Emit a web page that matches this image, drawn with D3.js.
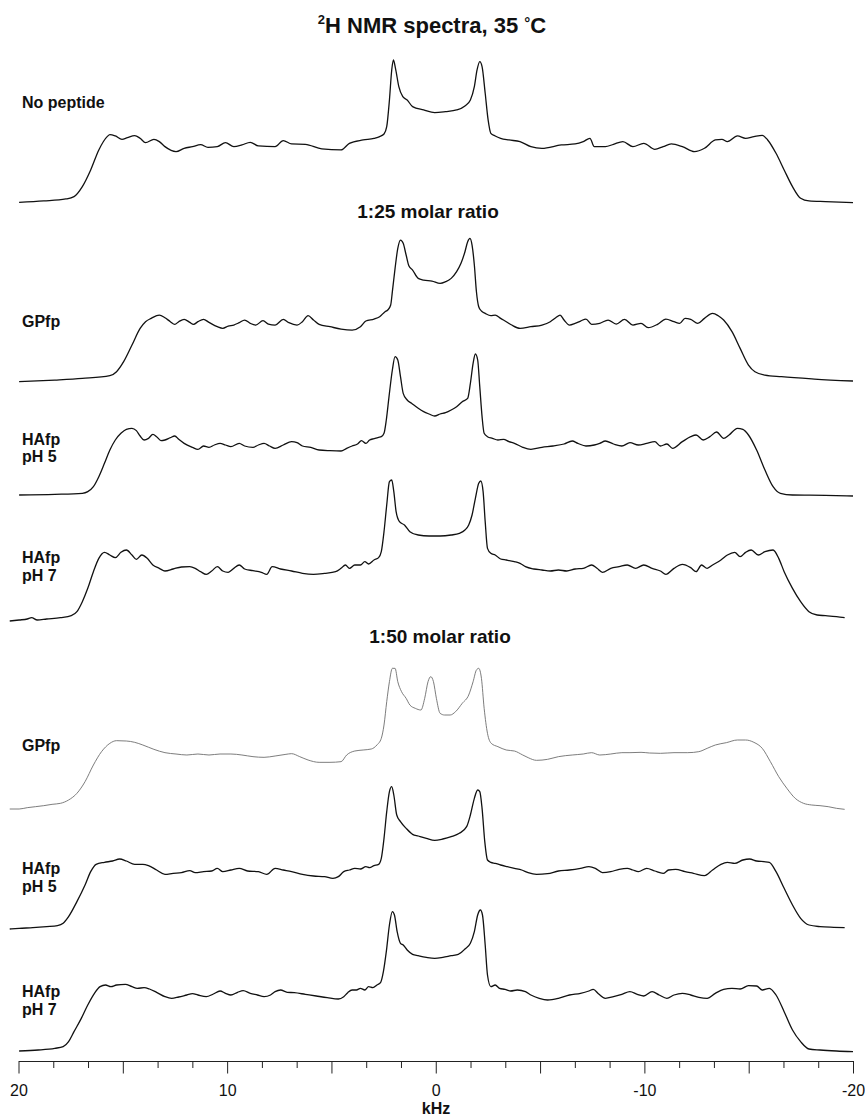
<!DOCTYPE html>
<html><head><meta charset="utf-8">
<script src="https://cdn.jsdelivr.net/npm/d3@7"></script>
<style>
html,body{margin:0;padding:0;background:#fff;}
svg{display:block;font-family:"Liberation Sans",Arial,Helvetica,sans-serif;}
</style></head>
<body>
<svg id="chart" width="865" height="1117"></svg>
<script>
// ---------- DATA: [kHz, intensity (a.u.)] ----------
const noPeptide = [[19.97,0],[18.79,4],[17.73,10],[17.34,17],[16.94,47],[16.54,97],[16.15,157],[15.75,197],[15.62,203],[15.36,199],[15.04,189],[14.78,194],[14.43,200],[14.17,192],[13.91,179],[13.51,189],[13.25,182],[12.98,167],[12.45,152],[12.06,162],[11.66,167],[11.27,173],[10.92,165],[10.47,167],[10.08,179],[9.68,167],[9.29,172],[8.89,180],[8.50,169],[7.70,167],[7.31,185],[6.91,175],[6.25,174],[5.46,160],[4.54,157],[4.14,177],[3.48,187],[2.96,192],[2.69,197],[2.48,205],[2.35,227],[2.22,307],[2.11,397],[2.03,427],[1.93,402],[1.77,347],[1.58,317],[1.37,307],[1.11,287],[0.58,277],[0.05,269],[-0.47,272],[-1.00,277],[-1.40,289],[-1.66,307],[-1.85,347],[-1.98,397],[-2.11,422],[-2.22,407],[-2.37,327],[-2.51,247],[-2.64,207],[-2.85,199],[-3.11,192],[-3.51,187],[-4.04,182],[-4.56,167],[-5.09,162],[-6.02,172],[-6.68,175],[-7.07,182],[-7.39,192],[-7.60,167],[-8.13,167],[-8.52,174],[-8.97,182],[-9.45,167],[-9.97,177],[-10.50,159],[-10.90,167],[-11.29,175],[-11.82,167],[-12.40,152],[-12.88,162],[-13.40,187],[-13.72,189],[-13.98,182],[-14.46,199],[-14.85,192],[-15.25,197],[-15.65,201],[-15.91,187],[-16.31,147],[-16.70,97],[-17.10,47],[-17.49,12],[-17.89,4],[-18.68,2],[-20.00,-1]];

const gpfp25 = [[19.97,0],[18.26,5],[16.94,10],[15.62,18],[15.30,30],[14.96,60],[14.56,110],[14.17,160],[13.91,180],[13.64,190],[13.25,200],[12.98,192],[12.72,180],[12.51,172],[12.32,180],[12.06,187],[11.79,178],[11.61,172],[11.40,180],[11.13,187],[10.87,178],[10.47,165],[10.21,160],[9.95,167],[9.68,170],[9.42,177],[9.16,185],[8.89,175],[8.63,170],[8.28,183],[8.02,173],[7.70,170],[7.31,187],[7.04,177],[6.65,170],[6.39,180],[6.12,198],[5.86,185],[5.59,172],[5.07,165],[4.54,158],[4.01,155],[3.61,165],[3.35,182],[2.96,188],[2.69,195],[2.43,210],[2.30,215],[2.16,230],[2.08,270],[1.95,340],[1.82,400],[1.69,425],[1.56,415],[1.42,380],[1.29,348],[1.11,335],[0.84,310],[0.58,305],[0.18,302],[-0.21,295],[-0.47,300],[-0.74,310],[-1.00,330],[-1.21,355],[-1.40,390],[-1.53,420],[-1.64,430],[-1.74,410],[-1.85,350],[-1.95,270],[-2.06,225],[-2.19,212],[-2.37,205],[-2.64,198],[-2.85,200],[-3.11,190],[-3.38,180],[-3.64,170],[-4.04,160],[-4.56,165],[-5.09,170],[-5.49,180],[-5.75,192],[-5.96,200],[-6.15,185],[-6.41,170],[-6.68,175],[-6.94,182],[-7.20,188],[-7.47,172],[-7.86,175],[-8.26,185],[-8.65,173],[-9.05,187],[-9.45,170],[-9.84,175],[-10.18,162],[-10.63,172],[-11.03,188],[-11.42,180],[-11.69,175],[-11.95,190],[-12.22,187],[-12.56,175],[-12.88,190],[-13.27,205],[-13.54,198],[-13.80,185],[-14.20,150],[-14.59,100],[-14.99,50],[-15.30,30],[-15.78,20],[-16.57,15],[-18.15,8],[-20.00,2]];

const hafp5_25 = [[19.97,0],[18.26,2],[16.94,5],[16.68,10],[16.41,25],[16.15,55],[15.88,95],[15.62,135],[15.36,165],[15.09,185],[14.83,197],[14.56,200],[14.35,193],[14.17,177],[13.98,165],[13.77,170],[13.56,182],[13.38,175],[13.17,163],[12.98,165],[12.72,172],[12.51,177],[12.32,167],[12.06,155],[11.66,143],[11.40,137],[11.13,147],[10.87,143],[10.61,150],[10.34,155],[10.08,150],[9.82,145],[9.42,155],[9.16,147],[8.76,143],[8.50,150],[8.23,155],[7.97,147],[7.70,140],[7.31,150],[6.91,160],[6.65,157],[6.39,147],[5.99,143],[5.59,135],[5.07,133],[4.54,132],[4.27,140],[4.01,147],[3.75,153],[3.56,163],[3.35,155],[3.17,165],[2.96,169],[2.74,173],[2.61,175],[2.48,185],[2.37,225],[2.24,295],[2.08,375],[1.95,415],[1.82,405],[1.69,355],[1.56,305],[1.37,285],[1.16,275],[0.84,260],[0.58,250],[0.32,243],[0.05,237],[-0.21,243],[-0.47,247],[-0.74,255],[-1.00,265],[-1.27,280],[-1.53,290],[-1.66,335],[-1.79,395],[-1.90,423],[-2.01,405],[-2.11,325],[-2.22,235],[-2.32,185],[-2.48,175],[-2.72,170],[-2.98,165],[-3.25,167],[-3.51,160],[-3.77,155],[-4.17,143],[-4.56,137],[-5.09,143],[-5.62,147],[-6.15,153],[-6.54,162],[-6.81,155],[-7.20,147],[-7.60,150],[-7.86,155],[-8.13,162],[-8.52,153],[-8.92,147],[-9.31,157],[-9.71,150],[-10.11,155],[-10.50,160],[-10.77,147],[-11.08,153],[-11.35,140],[-11.82,160],[-12.22,175],[-12.48,180],[-12.82,165],[-13.14,175],[-13.46,189],[-13.80,170],[-14.06,180],[-14.46,200],[-14.72,197],[-14.99,180],[-15.38,135],[-15.78,75],[-16.17,25],[-16.52,5],[-17.10,0],[-18.68,-1],[-20.00,-3]];

const hafp7_25 = [[20.42,-3],[19.97,0],[19.58,3],[19.37,7],[19.10,0],[18.65,3],[17.99,7],[17.47,13],[17.20,25],[16.94,55],[16.68,95],[16.41,145],[16.15,185],[15.88,203],[15.62,195],[15.36,187],[15.09,203],[14.83,210],[14.56,195],[14.35,182],[14.09,195],[13.83,185],[13.56,165],[13.25,155],[12.98,147],[12.59,153],[12.19,159],[11.79,160],[11.53,155],[11.27,145],[11.00,137],[10.74,147],[10.47,160],[10.21,147],[9.95,143],[9.68,155],[9.42,165],[9.16,153],[8.76,148],[8.36,143],[8.10,137],[7.84,160],[7.44,153],[6.91,147],[6.39,140],[5.86,137],[5.33,140],[4.80,145],[4.54,155],[4.33,165],[4.14,155],[3.88,165],[3.61,165],[3.40,175],[3.22,168],[2.96,180],[2.74,187],[2.61,205],[2.48,265],[2.35,345],[2.22,415],[2.11,420],[2.01,385],[1.90,325],[1.74,295],[1.50,285],[1.24,265],[0.84,255],[0.32,252],[-0.21,252],[-0.74,255],[-1.13,260],[-1.40,270],[-1.58,285],[-1.74,315],[-1.90,365],[-2.06,410],[-2.16,417],[-2.27,385],[-2.37,295],[-2.48,215],[-2.64,200],[-2.85,195],[-3.11,183],[-3.38,180],[-3.77,175],[-4.04,170],[-4.30,160],[-4.70,153],[-5.09,150],[-5.49,147],[-5.88,150],[-6.28,147],[-6.68,153],[-7.07,155],[-7.47,165],[-7.73,155],[-7.99,143],[-8.39,155],[-8.79,160],[-9.18,165],[-9.58,155],[-9.97,165],[-10.37,155],[-10.77,147],[-11.03,137],[-11.42,155],[-11.82,167],[-12.22,157],[-12.48,145],[-12.74,165],[-13.01,155],[-13.27,165],[-13.67,180],[-13.98,195],[-14.33,203],[-14.59,190],[-14.85,203],[-15.12,210],[-15.46,195],[-15.78,205],[-16.17,210],[-16.44,185],[-16.70,145],[-17.10,95],[-17.49,55],[-17.89,25],[-18.28,15],[-18.68,13],[-19.21,10],[-19.60,7]];

const gpfp50 = [[20.42,0],[19.97,0],[19.58,4],[19.18,7],[18.79,10],[18.39,14],[17.99,17],[17.60,27],[17.20,47],[16.81,82],[16.41,132],[16.02,172],[15.62,197],[15.30,205],[14.83,204],[14.43,200],[14.04,192],[13.51,179],[12.98,169],[12.45,165],[11.93,162],[11.40,165],[10.87,162],[10.34,165],[9.82,165],[9.29,162],[8.76,157],[8.23,155],[7.70,159],[7.18,164],[6.91,166],[6.52,157],[6.12,147],[5.59,140],[5.07,140],[4.54,142],[4.27,162],[3.88,174],[3.48,177],[3.09,180],[2.82,192],[2.61,212],[2.48,252],[2.35,322],[2.22,382],[2.08,422],[1.95,422],[1.82,382],[1.64,352],[1.42,332],[1.24,312],[0.98,302],[0.71,297],[0.53,332],[0.37,382],[0.24,397],[0.11,382],[-0.03,332],[-0.21,287],[-0.42,282],[-0.69,282],[-0.95,292],[-1.27,317],[-1.58,342],[-1.79,382],[-1.95,417],[-2.06,422],[-2.19,392],[-2.32,302],[-2.48,227],[-2.66,197],[-2.98,187],[-3.38,177],[-3.77,174],[-4.17,162],[-4.43,154],[-4.83,146],[-5.36,149],[-5.88,157],[-6.54,162],[-7.07,165],[-7.47,169],[-7.86,162],[-8.39,165],[-8.92,169],[-9.31,169],[-9.84,170],[-10.24,168],[-10.77,167],[-11.42,169],[-12.08,169],[-12.61,172],[-13.01,182],[-13.40,192],[-13.93,199],[-14.46,207],[-14.85,207],[-15.25,200],[-15.65,182],[-16.04,142],[-16.44,97],[-16.83,62],[-17.23,32],[-17.63,17],[-18.02,12],[-18.42,10],[-18.81,7],[-19.21,2],[-19.60,-1]];

const hafp5_50 = [[20.42,0],[19.97,2],[19.31,4],[18.65,7],[18.13,10],[17.86,17],[17.60,37],[17.20,82],[16.81,132],[16.54,172],[16.28,194],[15.88,200],[15.49,204],[15.15,210],[14.83,204],[14.43,194],[14.04,194],[13.77,190],[13.38,177],[12.98,164],[12.59,167],[12.19,169],[11.79,175],[11.53,169],[11.13,172],[10.74,174],[10.47,182],[10.21,172],[9.82,177],[9.42,182],[9.02,174],[8.50,172],[8.10,164],[7.70,182],[7.31,177],[6.91,172],[6.39,164],[5.86,159],[5.33,157],[4.93,152],[4.67,157],[4.41,172],[4.14,177],[3.88,182],[3.61,180],[3.35,187],[3.17,184],[2.96,190],[2.74,194],[2.61,212],[2.48,272],[2.35,352],[2.22,412],[2.11,427],[2.01,402],[1.87,342],[1.69,322],[1.42,302],[1.11,284],[0.84,279],[0.45,272],[0.05,266],[-0.34,270],[-0.74,277],[-1.13,287],[-1.48,307],[-1.66,342],[-1.85,392],[-2.01,417],[-2.11,412],[-2.22,362],[-2.35,262],[-2.48,207],[-2.64,200],[-2.85,197],[-3.11,192],[-3.43,187],[-3.77,182],[-4.12,177],[-4.43,169],[-4.83,164],[-5.36,166],[-5.88,174],[-6.41,177],[-6.94,182],[-7.34,187],[-7.65,182],[-7.99,169],[-8.39,172],[-8.79,179],[-9.18,182],[-9.45,177],[-9.71,172],[-10.11,182],[-10.50,174],[-10.90,167],[-11.16,177],[-11.50,179],[-11.95,172],[-12.35,167],[-12.88,160],[-13.27,177],[-13.67,194],[-13.98,200],[-14.33,197],[-14.72,207],[-15.04,210],[-15.38,204],[-15.73,202],[-15.99,200],[-16.31,172],[-16.70,122],[-17.10,72],[-17.49,32],[-17.89,12],[-18.42,7],[-19.08,5],[-19.60,4]];

const hafp7_50 = [[19.97,0],[19.05,3],[18.26,8],[17.86,13],[17.60,28],[17.34,58],[16.99,98],[16.68,138],[16.36,173],[16.09,193],[15.83,198],[15.57,193],[15.30,198],[14.88,200],[14.56,193],[14.30,188],[13.98,190],[13.72,186],[13.38,176],[12.98,163],[12.66,158],[12.32,162],[11.93,168],[11.66,172],[11.40,168],[11.00,163],[10.66,171],[10.34,180],[10.08,173],[9.82,168],[9.50,176],[9.23,181],[8.89,173],[8.55,168],[8.23,163],[7.92,168],[7.70,178],[7.44,183],[7.12,176],[6.78,175],[6.25,170],[5.73,165],[5.20,160],[4.67,156],[4.41,163],[4.22,175],[4.01,183],[3.80,183],[3.61,188],[3.40,183],[3.22,193],[3.01,190],[2.82,198],[2.64,206],[2.51,238],[2.37,298],[2.22,378],[2.08,418],[1.98,408],[1.85,358],[1.69,323],[1.56,318],[1.37,303],[1.11,290],[0.84,286],[0.45,281],[0.05,278],[-0.34,281],[-0.74,286],[-1.08,290],[-1.40,306],[-1.66,323],[-1.85,358],[-2.01,408],[-2.14,423],[-2.24,408],[-2.37,318],[-2.48,228],[-2.64,193],[-2.85,198],[-3.06,188],[-3.32,185],[-3.59,180],[-3.91,183],[-4.30,178],[-4.56,168],[-4.96,158],[-5.36,153],[-5.88,158],[-6.41,168],[-6.94,173],[-7.34,180],[-7.55,185],[-7.81,171],[-8.13,158],[-8.52,163],[-8.92,170],[-9.31,178],[-9.66,170],[-9.97,165],[-10.37,178],[-10.71,168],[-11.08,158],[-11.42,168],[-11.82,173],[-12.22,168],[-12.61,161],[-13.01,158],[-13.40,173],[-13.80,185],[-14.20,188],[-14.59,186],[-14.99,196],[-15.38,195],[-15.65,183],[-15.99,188],[-16.31,168],[-16.70,118],[-17.10,63],[-17.49,28],[-17.89,6],[-18.42,3],[-19.21,0],[-20.00,-2]];

const spectra = [noPeptide, gpfp25, hafp5_25, hafp7_25, gpfp50, hafp5_50, hafp7_50];
const spectrumLabels = [["No peptide"], ["GPfp"], ["HAfp","pH 5"], ["HAfp","pH 7"], ["GPfp"], ["HAfp","pH 5"], ["HAfp","pH 7"]];
const sectionLabels = ["1:25 molar ratio", "1:50 molar ratio"];
const tickLabels = [20, 10, 0, -10, -20];
const xDomain = [20, -20];
const axisTitle = "kHz";

// ---------- LAYOUT ----------
const baselines = [202.3, 381.7, 495, 620, 809, 929, 1051];
const labelY = [[108], [327], [445, 462], [563, 581], [751], [874, 892], [997, 1015]];
const lineColors = ["#111", "#111", "#111", "#111", "#6e6e6e", "#111", "#111"];
const lineWidths = [1.3, 1.3, 1.3, 1.3, 0.9, 1.3, 1.3];
const sectionPos = [[428, 218], [440, 643]];

const svg = d3.select("#chart");
svg.append("rect").attr("width", 865).attr("height", 1117).attr("fill", "#fff");

const x = d3.scaleLinear().domain(xDomain).range([18.5, 853]);
const yAmp = d3.scaleLinear().domain([0, 450]).range([0, 150]);

// Title
const title = svg.append("text").attr("x", 432).attr("y", 33)
  .attr("text-anchor", "middle").attr("font-size", 22).attr("font-weight", "bold").attr("fill", "#111");
title.append("tspan").attr("font-size", 13).attr("dy", -9).text("2");
title.append("tspan").attr("dy", 9).text("H NMR spectra, 35 ");
title.append("tspan").attr("font-size", 15).attr("dy", -5).text("°");
title.append("tspan").attr("dy", 5).text("C");

// Section labels
sectionLabels.forEach((s, i) => {
  svg.append("text").attr("x", sectionPos[i][0]).attr("y", sectionPos[i][1])
    .attr("text-anchor", "middle").attr("font-size", 19).attr("font-weight", "bold")
    .attr("fill", "#111").text(s);
});

// Spectra
spectra.forEach((data, i) => {
  const b = baselines[i];
  const line = d3.line()
    .x(d => x(d[0]))
    .y(d => b - yAmp(d[1]))
    .curve(d3.curveMonotoneX);
  svg.append("path").datum(data.slice().sort((a, c) => c[0] - a[0]))
    .attr("d", line).attr("fill", "none")
    .attr("stroke", lineColors[i]).attr("stroke-width", lineWidths[i])
    .attr("stroke-linejoin", "round");
  spectrumLabels[i].forEach((t, j) => {
    svg.append("text").attr("x", 22).attr("y", labelY[i][j])
      .attr("font-size", 16).attr("font-weight", "bold").attr("fill", "#111").text(t);
  });
});

// Axis
const allTicks = d3.range(0, 25).map(k => 20 - k * 5 / 3);
const minorTicks = allTicks.filter(v => Math.abs(v / 5 - Math.round(v / 5)) > 1e-6);
const majorTicks = allTicks.filter(v => Math.abs(v / 5 - Math.round(v / 5)) <= 1e-6).map(v => Math.round(v));
const axisY = 1061;
const gMinor = svg.append("g").attr("transform", `translate(0,${axisY})`)
  .call(d3.axisBottom(x).tickValues(minorTicks).tickSize(7).tickSizeOuter(0).tickFormat(""));
const gMajor = svg.append("g").attr("transform", `translate(0,${axisY})`)
  .call(d3.axisBottom(x).tickValues(majorTicks).tickSize(12.5).tickSizeOuter(0).tickPadding(11)
    .tickFormat(v => tickLabels.includes(v) ? String(v) : ""));
gMajor.select(".domain").remove();
[gMinor, gMajor].forEach(g => {
  g.selectAll("line, path").attr("stroke", "#222").attr("stroke-width", 1);
  g.selectAll("text").attr("font-size", 16).attr("fill", "#111")
    .attr("font-family", '"Liberation Sans",Arial,sans-serif');
});
svg.append("text").attr("x", 436).attr("y", 1114).attr("text-anchor", "middle")
  .attr("font-size", 16).attr("font-weight", "bold").attr("fill", "#111").text(axisTitle);
</script>
</body></html>
